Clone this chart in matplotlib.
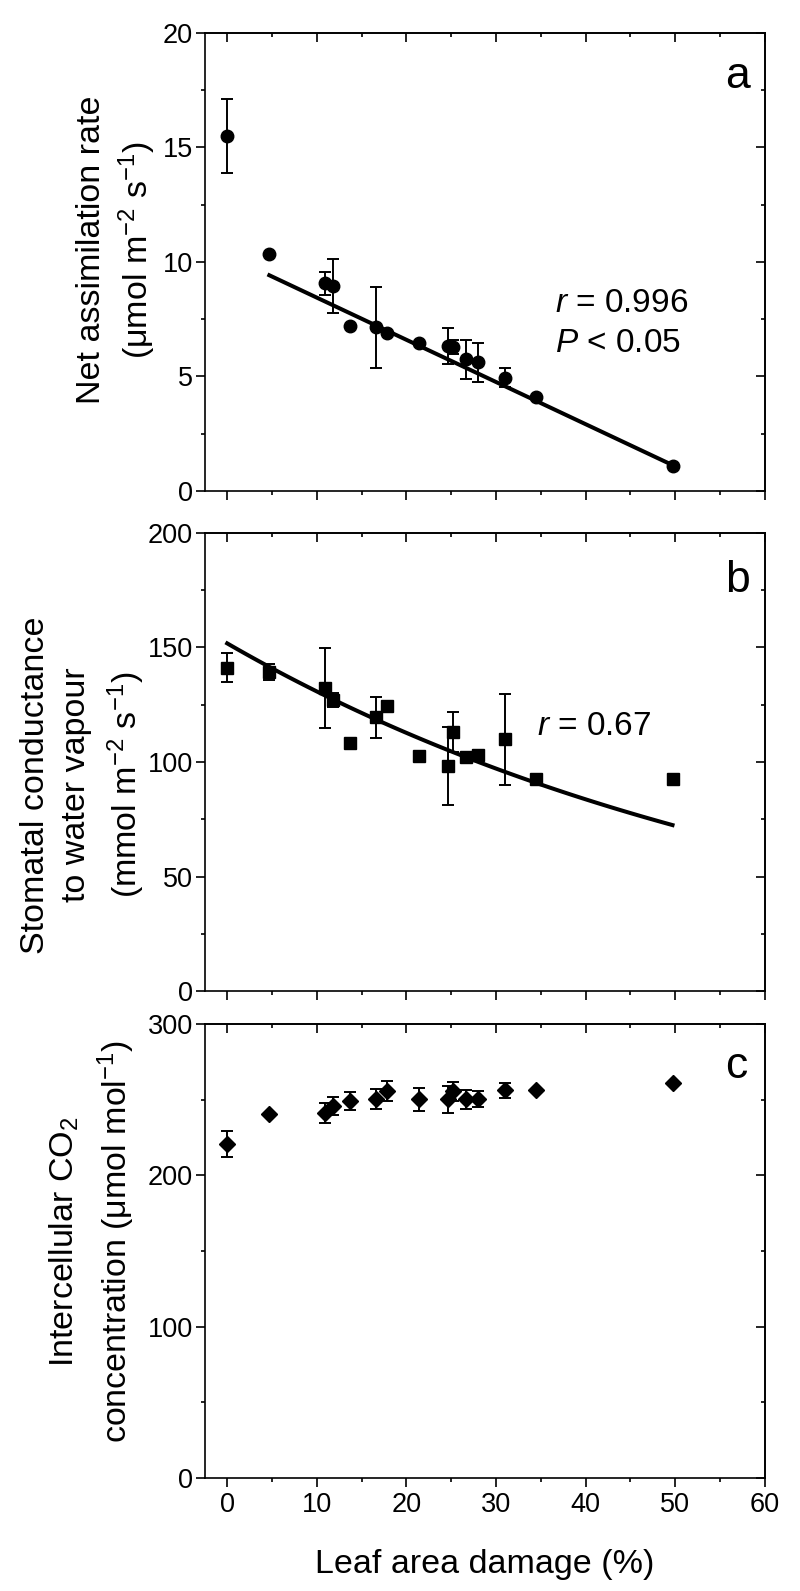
import numpy as np
import matplotlib
matplotlib.use('Agg')
import matplotlib.pyplot as plt
from matplotlib.ticker import MultipleLocator

plt.rcParams['font.family'] = ['Liberation Sans', 'DejaVu Sans']
plt.rcParams['mathtext.fontset'] = 'custom'
plt.rcParams['mathtext.rm'] = 'Liberation Sans'
plt.rcParams['mathtext.it'] = 'Liberation Sans:italic'
plt.rcParams['mathtext.bf'] = 'Liberation Sans:bold'

# Leaf area damage (%) - same plants in all three panels
damage = [0, 4.7, 10.9, 11.8, 13.7, 16.6, 17.8, 21.4, 24.6, 25.2, 26.6, 28.0, 31.0, 34.5, 49.7]

# (a) net assimilation rate
assim = [15.5, 10.35, 9.07, 8.95, 7.2, 7.15, 6.91, 6.48, 6.33, 6.28, 5.75, 5.62, 4.95, 4.12, 1.09]
assim_err = [1.6, 0, 0.5, 1.18, 0, 1.76, 0, 0, 0.78, 0.3, 0.86, 0.84, 0.4, 0, 0]

# (b) stomatal conductance
cond = [141.2, 139.2, 132.2, 127.1, 108.2, 119.5, 124.6, 102.6, 98.3, 113.0, 102.0, 103.1, 109.9, 92.4, 92.6]
cond_err = [6.3, 3.5, 17.5, 3, 0, 8.9, 0, 0, 16.9, 8.8, 2, 2, 20, 1.5, 1.5]

# (c) intercellular CO2
ci = [220.9, 240.3, 241.2, 245.6, 248.9, 250.6, 255.7, 250.2, 250.2, 255.5, 250.2, 250.6, 256.2, 256.6, 261.4]
ci_err = [8.6, 0, 6.5, 6, 6, 6.7, 6.4, 7.7, 9, 6, 6.3, 5.5, 5, 0, 0]

# fitted curves
fit_a_icpt, fit_a_slope, fit_a_range = 10.285, -0.1842, (4.7, 49.7)   # linear
fit_b_amp, fit_b_rate, fit_b_range = 151.8, 0.01488, (0, 49.7)       # exponential decay


def style(ax, ymax, major, minor, show_x):
    ax.set_xlim(-2.5, 60)
    ax.set_ylim(0, ymax)
    ax.xaxis.set_major_locator(MultipleLocator(10))
    ax.xaxis.set_minor_locator(MultipleLocator(5))
    ax.yaxis.set_major_locator(MultipleLocator(major))
    ax.yaxis.set_minor_locator(MultipleLocator(minor))
    ax.tick_params(which='both', direction='out', width=1.2, labelsize=19.5,
                   top=False, right=False)
    ax.tick_params(which='major', length=6.5)
    ax.tick_params(which='minor', length=3.2)
    ax.tick_params(axis='y', pad=2)
    ax.tick_params(axis='x', pad=4, labelbottom=show_x)
    for s in ax.spines.values():
        s.set_linewidth(1.2)
    # inward ticks on top and right
    top = ax.secondary_xaxis('top')
    top.xaxis.set_major_locator(MultipleLocator(10))
    top.xaxis.set_minor_locator(MultipleLocator(5))
    top.tick_params(which='both', direction='in', width=1.2, labeltop=False)
    top.tick_params(which='major', length=6.5)
    top.tick_params(which='minor', length=3.2)
    right = ax.secondary_yaxis('right')
    right.yaxis.set_major_locator(MultipleLocator(major))
    right.yaxis.set_minor_locator(MultipleLocator(minor))
    right.tick_params(which='both', direction='in', width=1.2, labelright=False)
    right.tick_params(which='major', length=6.5)
    right.tick_params(which='minor', length=3.2)
    for sec in (top, right):
        for s in sec.spines.values():
            s.set_linewidth(1.2)


fig = plt.figure(figsize=(8, 15.91), dpi=100)
L, W = 0.256, 0.7
axa = fig.add_axes([L, 0.6914, W, 0.2879])
axb = fig.add_axes([L, 0.3771, W, 0.2879])
axc = fig.add_axes([L, 0.0711, W, 0.2852])

eb = dict(color='k', capsize=4, elinewidth=1.4, capthick=1.4, zorder=3)

# panel a
xf = np.linspace(fit_a_range[0], fit_a_range[1], 100)
axa.plot(xf, fit_a_icpt + fit_a_slope * xf, color='k', lw=2.9, zorder=2)
axa.errorbar(damage, assim, yerr=assim_err, fmt='o', ms=9, **eb)
style(axa, 20, 5, 2.5, False)
axa.set_ylabel('Net assimilation rate\n(μmol m$^{-2}$ s$^{-1}$)', fontsize=24.5, linespacing=1.3)
axa.yaxis.set_label_coords(-0.084, 0.526)
axa.text(0.929, 0.879, 'a', transform=axa.transAxes, fontsize=32, ha='left', va='baseline')
axa.text(0.625, 0.391, '$r$ = 0.996', transform=axa.transAxes, fontsize=24, ha='left', va='baseline')
axa.text(0.625, 0.303, '$P$ < 0.05', transform=axa.transAxes, fontsize=24, ha='left', va='baseline')

# panel b
xf = np.linspace(fit_b_range[0], fit_b_range[1], 100)
axb.plot(xf, fit_b_amp * np.exp(-fit_b_rate * xf), color='k', lw=2.9, zorder=2)
axb.errorbar(damage, cond, yerr=cond_err, fmt='s', ms=8.5, **eb)
style(axb, 200, 50, 25, False)
axb.set_ylabel('Stomatal conductance\nto water vapour\n(mmol m$^{-2}$ s$^{-1}$)', fontsize=24.5, linespacing=1.42)
axb.yaxis.set_label_coords(-0.104, 0.45)
axb.text(0.929, 0.872, 'b', transform=axb.transAxes, fontsize=32, ha='left', va='baseline')
axb.text(0.593, 0.559, '$r$ = 0.67', transform=axb.transAxes, fontsize=24, ha='left', va='baseline')

# panel c
axc.errorbar(damage, ci, yerr=ci_err, fmt='D', ms=8.5, **eb)
style(axc, 300, 100, 50, True)
axc.set_ylabel('Intercellular CO$_2$\nconcentration (μmol mol$^{-1}$)', fontsize=24.5, linespacing=1.45)
axc.yaxis.set_label_coords(-0.121, 0.52)
axc.set_xlabel('Leaf area damage (%)', fontsize=24.5, labelpad=22)
axc.text(0.929, 0.882, 'c', transform=axc.transAxes, fontsize=32, ha='left', va='baseline')

fig.savefig('out.png', dpi=100)
